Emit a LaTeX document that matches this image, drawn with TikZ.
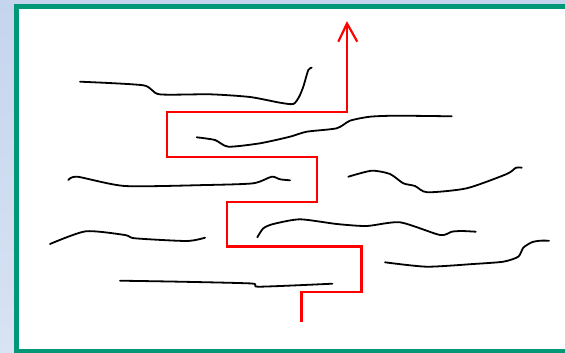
\documentclass[tikz,border=0pt]{standalone}
\usetikzlibrary{arrows.meta}
\definecolor{bgtop}{RGB}{197,213,238}
\definecolor{bgbot}{RGB}{216,227,243}
\definecolor{frame}{RGB}{0,152,118}
\definecolor{pathred}{RGB}{255,0,0}
\tikzset{
  wall/.style={line width=1.8pt, black, line cap=round, line join=round},
  route/.style={line width=2.2pt, pathred, line join=miter}
}
\begin{document}
\begin{tikzpicture}[x=1pt,y=-1pt]
\useasboundingbox (0,0) rectangle (565,353);
\shade[top color=bgtop, bottom color=bgbot] (0,0) rectangle (565,353);
\begin{scope}
\clip (0,0) rectangle (565,353);
\draw[frame, fill=white, line width=5pt] (16.5,6.8) rectangle (580,351.5);
\end{scope}
% walls
\draw[wall] plot[smooth, tension=0.4] coordinates {(80,81.7) (143.3,85.3) (159.3,94.3) (210,94.3) (250,97) (280,102.7) (293.3,104) (299,97) (303.3,86.7) (308.3,70) (311.7,67.7)};
\draw[wall] plot[smooth, tension=0.4] coordinates {(196.7,137.3) (215,140) (228.3,146.7) (260,143.3) (290,136.7) (306.7,131.7) (336.7,128.3) (350,120.7) (370,116.7) (396.7,115.7) (451.7,116.3)};
\draw[wall] plot[smooth, tension=0.4] coordinates {(68.3,180) (77.3,176.7) (125,186) (206.7,185) (253.3,183.3) (271.7,176.7) (280,179.3) (290,180.3)};
\draw[wall] plot[smooth, tension=0.4] coordinates {(348.3,176.7) (371.7,170.7) (390,174) (403.3,183.3) (415,186) (427.3,192.3) (466.7,188.3) (506.7,174) (516,167.7) (521.7,167.7)};
\draw[wall] plot[smooth, tension=0.4] coordinates {(50,244) (85.7,231.3) (125,235) (135,238.3) (186.7,241) (205,237.7)};
\draw[wall] plot[smooth, tension=0.4] coordinates {(257.3,237.3) (263.3,228.3) (273.3,224) (300,219.3) (336.7,224) (366.7,226) (400,222.3) (440,235) (451.7,231.7) (461.7,231) (475.7,231.7)};
\draw[wall] plot[smooth, tension=0.4] coordinates {(385,262.3) (426.7,266.7) (473.3,264) (503.3,261.7) (518.3,256.7) (523.3,247.7) (531.7,242.3) (540,240.7) (549,240.7)};
\draw[wall] plot[smooth, tension=0.4] coordinates {(120,280.7) (180,281.7) (251.7,283.5) (259,286.7) (332.3,283.7)};
% route
\coordinate (start) at (301.5,321.5);
\coordinate (tip) at (347,23.5);
\draw[route] (start) -- (301.5,292) -- (361.5,292) -- (361.5,246.5) -- (227.3,246.5) -- (227.3,202) -- (316.8,202) -- (316.8,157.3) -- (167,157.3) -- (167,111.8) -- (347,111.8) -- (tip);
\draw[route, line join=miter] (338.3,41.7) -- (tip) -- (357.3,41.7);
\end{tikzpicture}
\end{document}
